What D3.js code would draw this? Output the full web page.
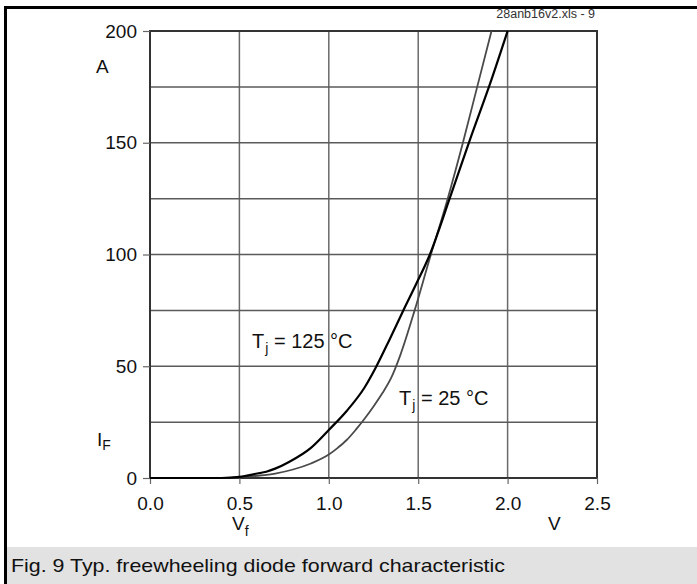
<!DOCTYPE html>
<html>
<head>
<meta charset="utf-8">
<script src="https://cdn.jsdelivr.net/npm/d3@7"></script>
<style>
  body { margin: 0; background: #fff; }
  svg { display: block; font-family: "Liberation Sans", Arial, sans-serif; }
</style>
</head>
<body>
<svg id="chart" width="697" height="584"></svg>
<script>
// Forward characteristic
const xTicks = [0.0, 0.5, 1.0, 1.5, 2.0, 2.5];
const yTicks = [0, 50, 100, 150, 200];
const yGrid = [0, 25, 50, 75, 100, 125, 150, 175, 200];

// Tj = 125 °C  (V, A)
const hotV = [0, 0.4, 0.5, 0.6, 0.65, 0.7, 0.78, 0.9, 1.0, 1.1, 1.2, 1.26, 1.34, 1.42, 1.49, 1.56, 1.68, 1.79, 1.9, 2.0];
const hotI = [0, 0, 0.5, 2, 2.8, 4.2, 7.3, 13.5, 21.5, 30, 40.5, 49, 62, 75.5, 87, 99, 126, 151.5, 176, 200];

// Tj = 25 °C
const coldV = [0, 0.4, 0.5, 0.6, 0.7, 0.8, 0.9, 1.0, 1.05, 1.1, 1.15, 1.2, 1.25, 1.3, 1.35, 1.4, 1.48, 1.56, 1.665, 1.75, 1.83, 1.91];
const coldI = [0, 0, 0.3, 1, 2, 3.8, 6.5, 10.5, 13.5, 17, 21.5, 26.5, 32, 38, 45, 55, 75, 97, 125, 150, 175, 200];

const svg = d3.select('#chart');
const margin = { top: 31, left: 150, right: 100, bottom: 106 };
const W = 697, H = 584;
const iw = W - margin.left - margin.right;
const ih = H - margin.top - margin.bottom;
const FS = 19;

const x = d3.scaleLinear().domain([0, 2.5]).range([0, iw]);
const y = d3.scaleLinear().domain([0, 200]).range([ih, 0]);

// Outer frame + caption band
svg.append('rect').attr('x', 7).attr('y', 547).attr('width', W - 7).attr('height', H - 547).attr('fill', '#e2e2e2');
svg.append('line').attr('x1', 5.5).attr('x2', 5.5).attr('y1', 6).attr('y2', H)
    .attr('stroke', '#000').attr('stroke-width', 3);
svg.append('line').attr('x1', 4).attr('x2', W).attr('y1', 7.5).attr('y2', 7.5)
    .attr('stroke', '#000').attr('stroke-width', 3);
svg.append('text').attr('x', 11).attr('y', 572)
    .attr('font-size', FS).attr('fill', '#111')
    .attr('textLength', 494).attr('lengthAdjust', 'spacingAndGlyphs')
    .text('Fig. 9 Typ. freewheeling diode forward characteristic');

svg.append('text').attr('x', 595).attr('y', 18).attr('text-anchor', 'end')
    .attr('font-size', 12.5).attr('fill', '#333')
    .text('28anb16v2.xls - 9');

const g = svg.append('g').attr('transform', `translate(${margin.left},${margin.top})`);

// Gridlines
g.selectAll('.vg').data(xTicks).join('line')
    .attr('x1', d => x(d)).attr('x2', d => x(d)).attr('y1', 0).attr('y2', ih)
    .attr('stroke', '#6a6a6a').attr('stroke-width', 1.5);
g.selectAll('.hg').data(yGrid).join('line')
    .attr('x1', 0).attr('x2', iw).attr('y1', d => y(d)).attr('y2', d => y(d))
    .attr('stroke', '#5a5a5a').attr('stroke-width', 1.5);

// Plot frame
g.append('rect').attr('x', 0).attr('y', 0).attr('width', iw).attr('height', ih)
    .attr('fill', 'none').attr('stroke', '#333').attr('stroke-width', 2);

// Axes (ticks outward, labels)
const yAxis = g.append('g').call(d3.axisLeft(y).tickValues(yTicks).tickSize(7).tickPadding(6).tickFormat(d3.format('d')));
const xAxis = g.append('g').attr('transform', `translate(0,${ih})`)
    .call(d3.axisBottom(x).tickValues(xTicks).tickSize(6).tickPadding(13).tickFormat(d3.format('.1f')));
for (const ax of [yAxis, xAxis]) {
    ax.select('.domain').remove();
    ax.selectAll('.tick line').attr('stroke', '#666').attr('stroke-width', 1.2);
    ax.selectAll('.tick text').attr('font-size', FS).attr('fill', '#111')
        .attr('font-family', '"Liberation Sans", Arial, sans-serif');
}

// Axis names
svg.append('text').attr('x', 96).attr('y', 73).attr('font-size', FS).attr('fill', '#111').text('A');
const iF = svg.append('text').attr('x', 97).attr('y', 446).attr('font-size', FS).attr('fill', '#111');
iF.append('tspan').text('I');
iF.append('tspan').attr('font-size', 14).attr('dy', 4).text('F');
const vF = svg.append('text').attr('x', 232).attr('y', 530).attr('font-size', FS).attr('fill', '#111');
vF.append('tspan').text('V');
vF.append('tspan').attr('font-size', 14).attr('dy', 6).text('f');
svg.append('text').attr('x', 548).attr('y', 530).attr('font-size', FS).attr('fill', '#111').text('V');

// Curves
const line = d3.line().x(d => x(d[0])).y(d => y(d[1])).curve(d3.curveMonotoneX);
const cold = coldV.map((v, i) => [v, coldI[i]]);
const hot = hotV.map((v, i) => [v, hotI[i]]);
g.append('path').datum(cold).attr('d', line)
    .attr('fill', 'none').attr('stroke', '#4a4a4a').attr('stroke-width', 1.8);
g.append('path').datum(hot).attr('d', line)
    .attr('fill', 'none').attr('stroke', '#000').attr('stroke-width', 2.2);

// Curve labels
function tjLabel(px, py, txt) {
    const t = svg.append('text').attr('x', px).attr('y', py).attr('font-size', 20).attr('fill', '#111');
    t.append('tspan').text('T');
    t.append('tspan').attr('font-size', 14).attr('dx', 1).attr('dy', 5).text('j');
    t.append('tspan').attr('dy', -5).text(txt);
}
tjLabel(252, 348, ' = 125  \u00b0C');
tjLabel(399, 405, ' = 25  \u00b0C');
</script>
</body>
</html>
